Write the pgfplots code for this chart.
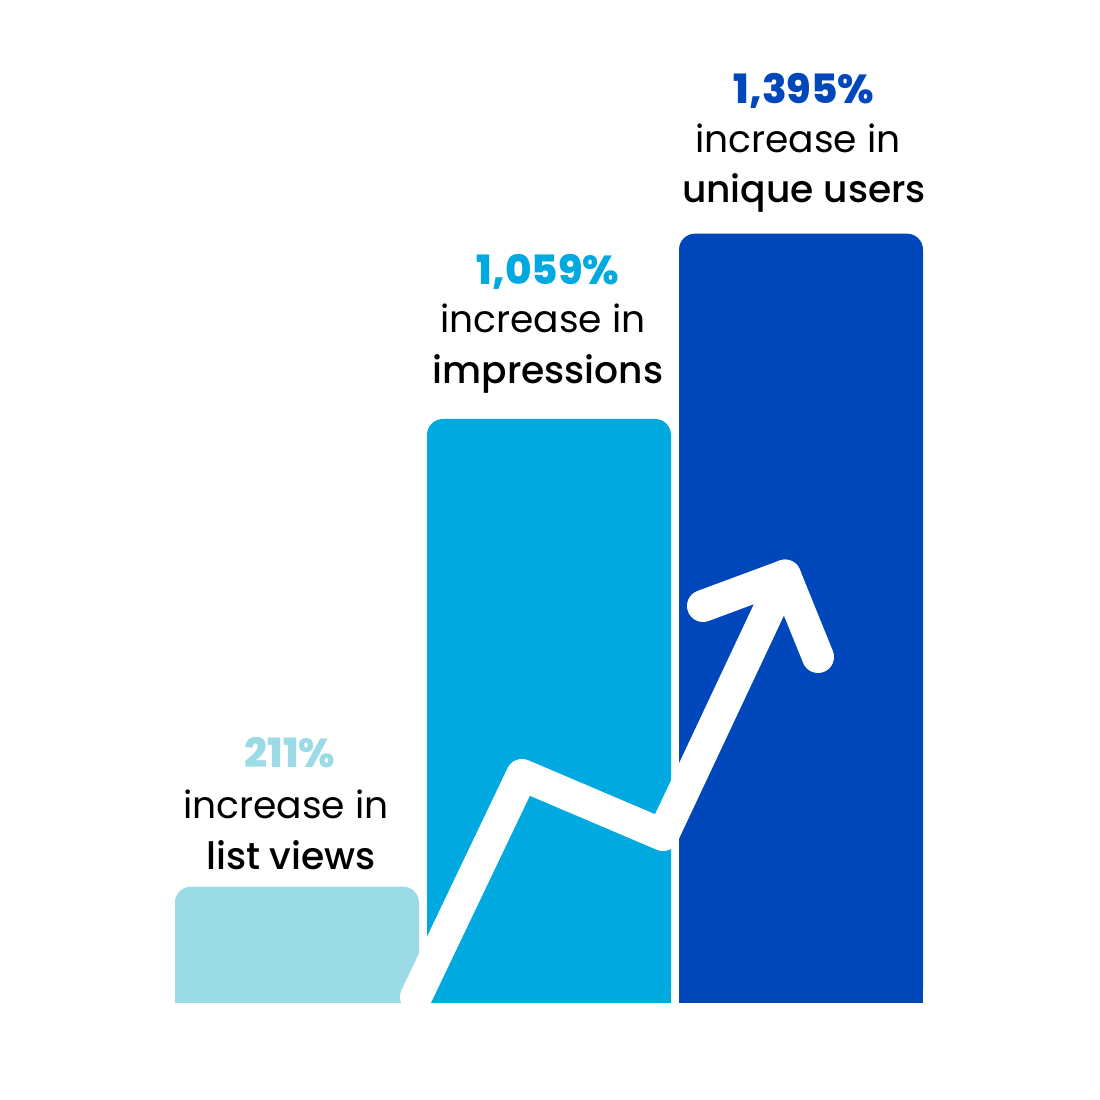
\documentclass[border=0pt]{standalone}
\usepackage{pgfplots}
\pgfplotsset{compat=1.18}
\usepackage{fontspec}
\setmainfont{Poppins}
\newfontfamily\medfont{Poppins Medium}
\newfontfamily\heavyfont{Poppins ExtraBold}
\definecolor{cLight}{HTML}{9BDBE6}
\definecolor{cMid}{HTML}{00A9E0}
\definecolor{cDark}{HTML}{0047BB}
\begin{document}
\begin{tikzpicture}
\begin{axis}[width=11cm, height=11cm, scale only axis,
  xmin=0, xmax=1100, ymin=-175.9, ymax=1818.7,
  hide axis, clip=false]
\path (rel axis cs:0,0) rectangle (rel axis cs:1,1);
% bars (rounded top)
\addplot[ybar, bar width=244, bar shift=0pt, fill=cLight, draw=none, rounded corners=1.6mm] coordinates {(297,211)};
\addplot[ybar, bar width=244, bar shift=0pt, fill=cLight, draw=none] coordinates {(297,171)};
\addplot[ybar, bar width=244, bar shift=0pt, fill=cMid, draw=none, rounded corners=1.6mm] coordinates {(549,1059)};
\addplot[ybar, bar width=244, bar shift=0pt, fill=cMid, draw=none] coordinates {(549,1019)};
\addplot[ybar, bar width=244, bar shift=0pt, fill=cDark, draw=none, rounded corners=1.6mm] coordinates {(801,1395)};
\addplot[ybar, bar width=244, bar shift=0pt, fill=cDark, draw=none] coordinates {(801,1355)};
% trend arrow
\addplot[white, line width=3.2mm, line cap=round, line join=round] coordinates {(416,10.9) (522,413.4) (663,304.6) (785,775)};
\addplot[white, line width=3.2mm, line cap=round, line join=round] coordinates {(703,719.9) (785,775) (818,627.4)};
% labels
\node[anchor=base, text=cLight, font=\fontsize{11.5}{13}\heavyfont] at (axis cs:290,427.9) {211\%};
\node[anchor=base, font=\fontsize{10.7}{13}\selectfont] at (axis cs:286,335.4) {increase in};
\node[anchor=base, font=\fontsize{10.7}{13}\medfont] at (axis cs:291,241.2) {list views};
\node[anchor=base, text=cMid, font=\fontsize{11.5}{13}\heavyfont] at (axis cs:548,1303.7) {1,059\%};
\node[anchor=base, font=\fontsize{10.7}{13}\selectfont] at (axis cs:543,1214.9) {increase in};
\node[anchor=base, font=\fontsize{10.7}{13}\medfont] at (axis cs:548,1122.4) {impressions};
\node[anchor=base, text=cDark, font=\fontsize{11.5}{13}\heavyfont] at (axis cs:804,1630.1) {1,395\%};
\node[anchor=base, font=\fontsize{10.7}{13}\selectfont] at (axis cs:798,1541.3) {increase in};
\node[anchor=base, font=\fontsize{10.7}{13}\medfont] at (axis cs:804,1450.6) {unique users};
\end{axis}
\end{tikzpicture}
\end{document}
